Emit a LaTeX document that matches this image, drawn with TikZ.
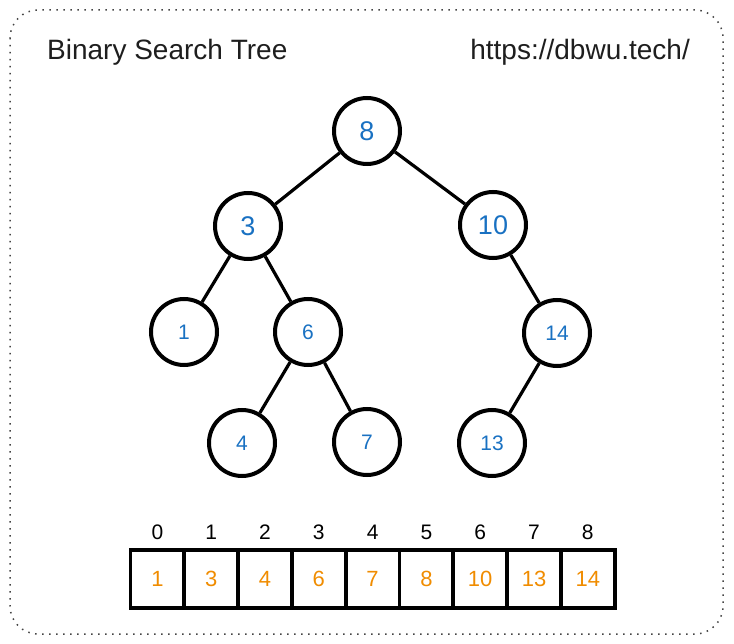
\documentclass[tikz,border=0pt]{standalone}
\usepackage{fontspec}
\setmainfont{Liberation Sans}
\definecolor{inkblue}{HTML}{1971C2}
\definecolor{inkorange}{HTML}{F08C00}
\definecolor{titlegray}{HTML}{1E1E1E}
\definecolor{framegray}{HTML}{444444}
\tikzset{
  treenode/.style={circle, draw=black, line width=4pt, minimum size=66pt, inner sep=0pt, text=inkblue},
  bignum/.style={font=\fontsize{27}{27}\selectfont},
  smallnum/.style={font=\fontsize{21}{21}\selectfont},
  edge/.style={draw=black, line width=3.2pt},
  cell/.style={rectangle, draw=black, line width=3.8pt, minimum width=53.8pt, minimum height=58pt, inner sep=0pt, text=inkorange, font=\fontsize{22}{22}\selectfont},
  idx/.style={text=black, font=\fontsize{21}{21}\selectfont, inner sep=0pt},
  titletext/.style={text=titlegray, font=\fontsize{28}{28}\selectfont, inner sep=0pt},
  frame/.style={draw=framegray, line width=1.5pt, dash pattern=on 1.5pt off 5.5pt, rounded corners=28pt}
}
\begin{document}
\begin{tikzpicture}[x=1pt,y=-1pt]
\useasboundingbox (0,0) rectangle (734,644);
\draw[frame] (10,10) rectangle (723,634);
\node[titletext, anchor=west] (title) at (47,52) {Binary Search Tree};
\node[titletext, anchor=east] (url) at (690,52) {https://dbwu.tech/};
% tree
\node[treenode, bignum] (n8) at (367,131) {8};
\node[treenode, bignum] (n3) at (248,226) {3};
\node[treenode, bignum] (n10) at (493,225) {10};
\node[treenode, smallnum] (n1) at (184,332) {1};
\node[treenode, smallnum] (n6) at (308,332) {6};
\node[treenode, smallnum] (n14) at (557,333) {14};
\node[treenode, smallnum] (n4) at (242,443) {4};
\node[treenode, smallnum] (n7) at (367,442) {7};
\node[treenode, smallnum] (n13) at (492,443) {13};
\draw[edge] (n8) -- (n3);
\draw[edge] (n8) -- (n10);
\draw[edge] (n3) -- (n1);
\draw[edge] (n3) -- (n6);
\draw[edge] (n10) -- (n14);
\draw[edge] (n6) -- (n4);
\draw[edge] (n6) -- (n7);
\draw[edge] (n14) -- (n13);
% array
\foreach \v [count=\i from 0] in {1,3,4,6,7,8,10,13,14} {
  \node[cell] (c\i) at ({130.5+26.9+53.8*\i},579) {\v};
  \node[idx] (i\i) at ({130.5+26.9+53.8*\i},532) {\i};
}
\end{tikzpicture}
\end{document}
